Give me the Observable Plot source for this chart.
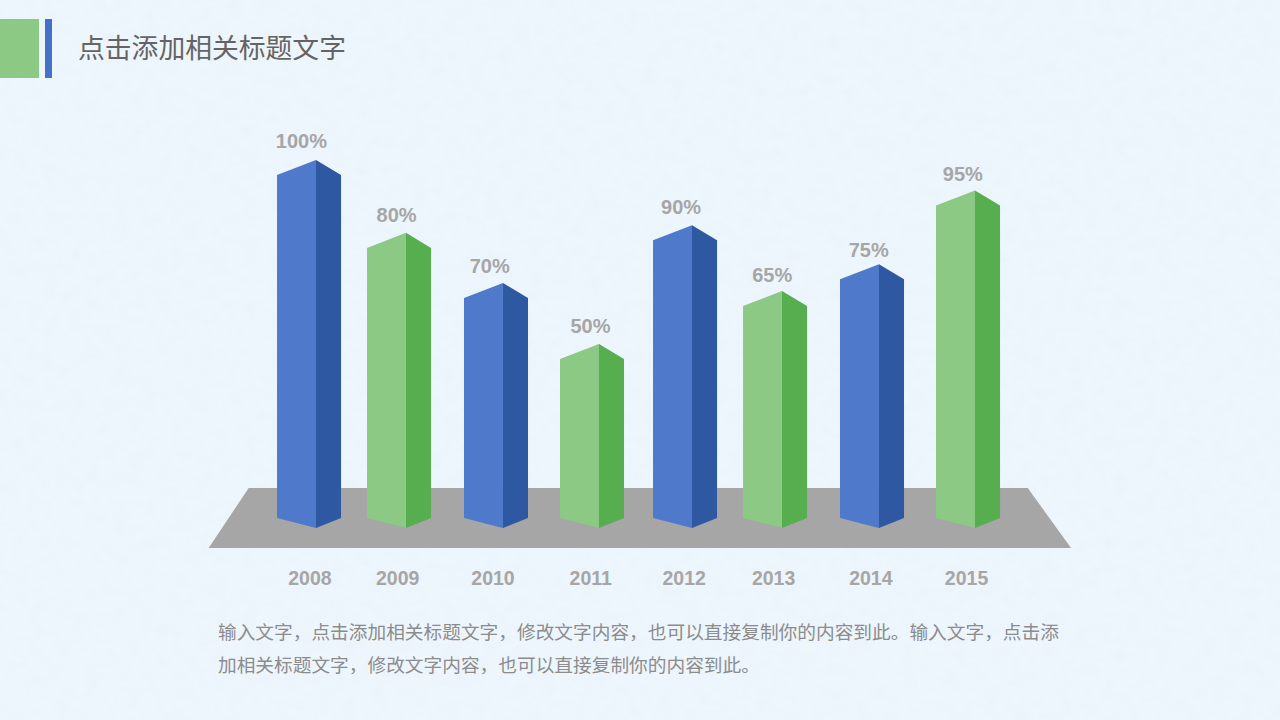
<!DOCTYPE html>
<html lang="zh">
<head>
<meta charset="utf-8">
<script src="https://cdn.jsdelivr.net/npm/d3@7"></script>
<script src="https://cdn.jsdelivr.net/npm/@observablehq/plot@0.6"></script>
<style>
  html, body { margin: 0; padding: 0; }
  body {
    width: 1280px; height: 720px; overflow: hidden; position: relative;
    background-color: #eef6fd;
    background-image: url("data:image/svg+xml;utf8,<svg xmlns='http://www.w3.org/2000/svg' width='1280' height='720'><filter id='n' x='0' y='0' width='100%' height='100%'><feTurbulence type='fractalNoise' baseFrequency='0.07 0.08' numOctaves='4' seed='7'/><feColorMatrix values='0 0 0 0 0.82  0 0 0 0 0.89  0 0 0 0 0.96  1.7 0 0 0 -0.62'/></filter><rect width='1280' height='720' filter='url(%23n)'/></svg>");
  }
  .tag { position: absolute; top: 19px; height: 59px; }
  #green { left: 0; width: 39px; background: #8bc985; }
  #blue { left: 45px; width: 7px; background: #4472c4; }
  #title {
    position: absolute; left: 78px; top: 27px; margin: 0;
    font: 400 26.8px/40px "Noto Sans CJK SC", sans-serif; color: #646464; white-space: nowrap;
  }
  #chart { position: absolute; left: 0; top: 100px; }
  #chart svg { display: block; background: transparent; }
  #caption {
    position: absolute; left: 218px; top: 614px; margin: 0;
    font: 400 18.7px/33px "Noto Sans CJK SC", sans-serif; color: #8c8c8c;
  }
  #caption span { display: block; white-space: nowrap; }
</style>
</head>
<body>
<div class="tag" id="green"></div>
<div class="tag" id="blue"></div>
<h1 id="title"></h1>
<div id="chart"></div>
<p id="caption"></p>
<script>
const titleText = "点击添加相关标题文字";
const captionLines = [
  "输入文字，点击添加相关标题文字，修改文字内容，也可以直接复制你的内容到此。输入文字，点击添",
  "加相关标题文字，修改文字内容，也可以直接复制你的内容到此。"
];
const years = ["2008", "2009", "2010", "2011", "2012", "2013", "2014", "2015"];
const percentLabels = ["100%", "80%", "70%", "50%", "90%", "65%", "75%", "95%"];
// Bar heights as drawn (on the 0-100 scale of the tallest bar).
const barLevels = [100, 80.2, 66.6, 50, 82.3, 64.4, 71.7, 91.7];
// Ridge of each bar along the axis, in units of one bar step.
const barSlots = [0, 0.956, 1.986, 3.006, 3.994, 4.95, 5.98, 7];
const yearSlots = [-0.07, 0.862, 1.875, 2.913, 3.905, 4.855, 5.888, 6.905];
const percentSlots = [-0.16, 0.85, 1.84, 2.91, 3.873, 4.84, 5.865, 6.865];
const percentLevels = [105.2, 85.1, 71.2, 54.9, 87.2, 68.8, 75.5, 96.2];
const barColors = ["blue", "green", "blue", "green", "blue", "green", "blue", "green"];

const faceFill = {blue: {front: "#4f7acb", side: "#2f58a2"}, green: {front: "#8bc985", side: "#57ae4f"}};
const frontWidth = 0.414, sideWidth = 0.266;   // in bar steps
const roofDrop = 4.08, footRise = 2.72;        // in level units
const floorLevels = [-5.43, 10.87];
const floorSlots = [-1.14, -0.715, 7.56, 8.02];

const faces = years.flatMap((year, i) => {
  const c = barSlots[i], h = barLevels[i], col = barColors[i];
  return [
    {id: year + "f", fill: faceFill[col].front, x: c - frontWidth, y1: footRise, y2: h - roofDrop},
    {id: year + "f", fill: faceFill[col].front, x: c, y1: 0, y2: h},
    {id: year + "s", fill: faceFill[col].side, x: c, y1: 0, y2: h},
    {id: year + "s", fill: faceFill[col].side, x: c + sideWidth, y1: footRise, y2: h - roofDrop}
  ];
});
const floor = [
  {x: floorSlots[0], y1: floorLevels[0], y2: floorLevels[0]},
  {x: floorSlots[1], y1: floorLevels[0], y2: floorLevels[1]},
  {x: floorSlots[2], y1: floorLevels[0], y2: floorLevels[1]},
  {x: floorSlots[3], y1: floorLevels[0], y2: floorLevels[0]}
];
const rows = years.map((year, i) => ({
  year, label: percentLabels[i], yearSlot: yearSlots[i], percentSlot: percentSlots[i], percentLevel: percentLevels[i]
}));
const yearLevel = -13.7;

document.getElementById("title").textContent = titleText;
const cap = document.getElementById("caption");
captionLines.forEach(t => { const s = document.createElement("span"); s.textContent = t; cap.appendChild(s); });

const textStyle = {fontFamily: "'Liberation Sans', Arial, sans-serif", fontWeight: "bold", fill: "#a6a6a6"};
const plot = Plot.plot({
  width: 1280, height: 500,
  marginTop: 0, marginRight: 0, marginBottom: 0, marginLeft: 0,
  x: {domain: [0, 7], range: [316, 975], axis: null},
  y: {domain: [0, 100], range: [428, 60], axis: null},
  color: {type: "identity"},
  style: {background: "transparent"},
  marks: [
    Plot.areaY(floor, {x: "x", y1: "y1", y2: "y2", fill: "#a6a6a6"}),
    Plot.areaY(faces, {x: "x", y1: "y1", y2: "y2", z: "id", fill: "fill"}),
    Plot.text(rows, {x: "percentSlot", y: "percentLevel", text: "label", fontSize: 20, ...textStyle}),
    Plot.text(rows, {x: "yearSlot", y: () => yearLevel, text: "year", fontSize: 19.5, ...textStyle})
  ]
});
document.getElementById("chart").appendChild(plot);
</script>
</body>
</html>
